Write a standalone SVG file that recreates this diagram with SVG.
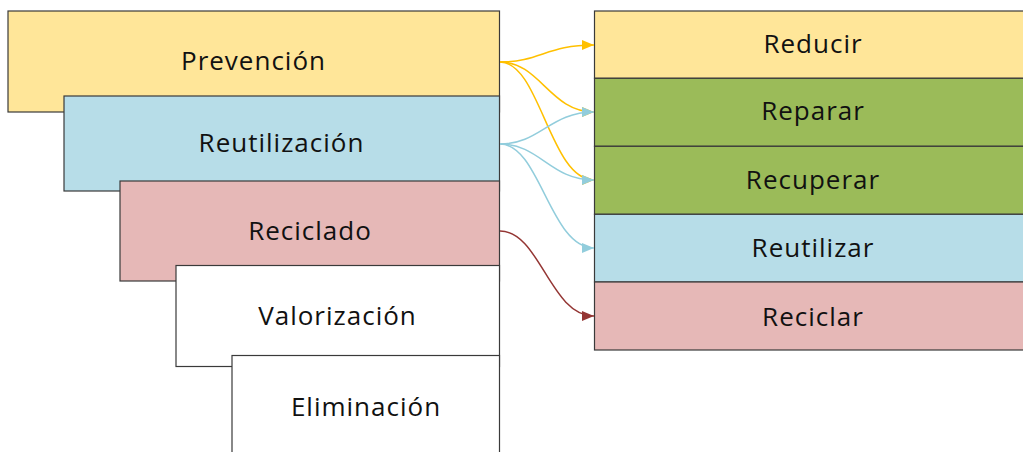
<svg xmlns="http://www.w3.org/2000/svg" width="1023" height="452" viewBox="0 0 1023 452">
<style>
.box{stroke:#3a3a3a;stroke-width:1.2}
.t{font-family:"Open Sans","Noto Sans",sans-serif;font-size:26px;letter-spacing:1px;fill:#111;text-anchor:middle}
.c{fill:none;stroke-width:1.5}
</style>
<defs>
<marker id="ay" viewBox="0 0 10 10" refX="10" refY="5" markerWidth="12" markerHeight="10" markerUnits="userSpaceOnUse" orient="auto" preserveAspectRatio="none"><path d="M0,0 L10,5 L0,10 z" fill="#FFC000"/></marker>
<marker id="ab" viewBox="0 0 10 10" refX="10" refY="5" markerWidth="12" markerHeight="10" markerUnits="userSpaceOnUse" orient="auto" preserveAspectRatio="none"><path d="M0,0 L10,5 L0,10 z" fill="#92CDDC"/></marker>
<marker id="ar" viewBox="0 0 10 10" refX="10" refY="5" markerWidth="12" markerHeight="10" markerUnits="userSpaceOnUse" orient="auto" preserveAspectRatio="none"><path d="M0,0 L10,5 L0,10 z" fill="#943634"/></marker>
</defs>
<rect width="1023" height="452" fill="#fff"/>
<g id="prevencion"><rect class="box" x="8" y="11" width="491.5" height="101" fill="#FFE699"/><text class="t" x="253.5" y="70">Prevención</text></g>
<g id="reutilizacion"><rect class="box" x="64" y="96" width="435.5" height="95" fill="#B7DDE8"/><text class="t" x="281.5" y="152">Reutilización</text></g>
<g id="reciclado"><rect class="box" x="120" y="181" width="379.5" height="100" fill="#E6B8B7"/><text class="t" x="310" y="240">Reciclado</text></g>
<g id="valorizacion"><rect class="box" x="176" y="265.5" width="323.5" height="101" fill="#fff"/><text class="t" x="337.5" y="325">Valorización</text></g>
<g id="eliminacion"><rect class="box" x="232" y="355.5" width="267.5" height="100" fill="#fff"/><text class="t" x="366" y="416">Eliminación</text></g>
<g id="reducir"><rect class="box" x="594.5" y="11" width="440" height="67.3" fill="#FFE699"/><text class="t" x="813" y="53">Reducir</text></g>
<g id="reparar"><rect class="box" x="594.5" y="78.3" width="440" height="68" fill="#9BBB59"/><text class="t" x="813" y="120">Reparar</text></g>
<g id="recuperar"><rect class="box" x="594.5" y="146.3" width="440" height="68" fill="#9BBB59"/><text class="t" x="813" y="189">Recuperar</text></g>
<g id="reutilizar"><rect class="box" x="594.5" y="214.3" width="440" height="67.7" fill="#B7DDE8"/><text class="t" x="813" y="257">Reutilizar</text></g>
<g id="reciclar"><rect class="box" x="594.5" y="282" width="440" height="68" fill="#E6B8B7"/><text class="t" x="813" y="326">Reciclar</text></g>
<g id="connectors">
<path class="c" stroke="#FFC000" marker-end="url(#ay)" d="M500,62 C540,62 547,45 594,45"/>
<path class="c" stroke="#FFC000" marker-end="url(#ay)" d="M500,62 C540,62 550,112 594,112"/>
<path class="c" stroke="#FFC000" marker-end="url(#ay)" d="M500,62 C540,62 550,180 594,180"/>
<path class="c" stroke="#92CDDC" marker-end="url(#ab)" d="M500,144 C540,144 550,112 594,112"/>
<path class="c" stroke="#92CDDC" marker-end="url(#ab)" d="M500,144 C540,144 550,180 594,180"/>
<path class="c" stroke="#92CDDC" marker-end="url(#ab)" d="M500,144 C540,144 550,248 594,248"/>
<path class="c" stroke="#943634" marker-end="url(#ar)" d="M500,231 C540,231 550,316 594,316"/>
</g>
</svg>
